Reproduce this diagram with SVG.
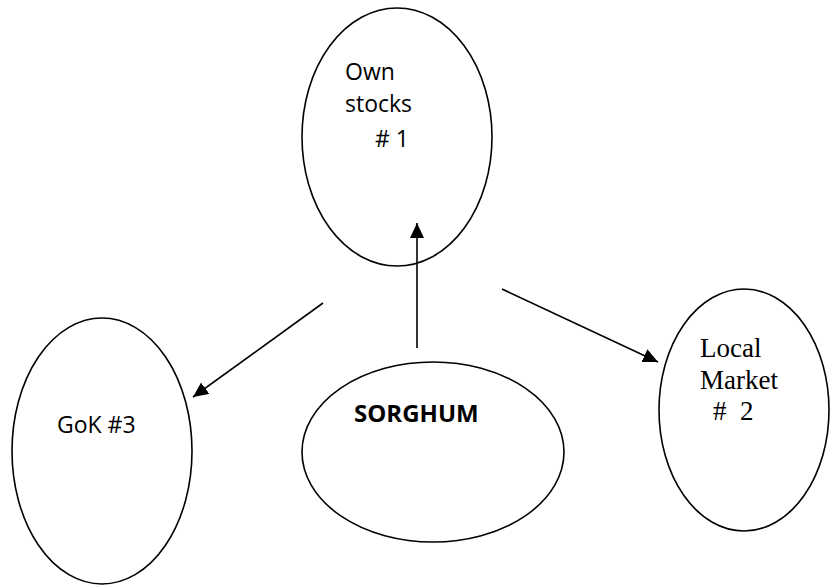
<svg xmlns="http://www.w3.org/2000/svg" width="830" height="586" viewBox="0 0 830 586">
  <style>
    .node { fill: #ffffff; stroke: #000000; stroke-width: 1.6; }
    .sans { font-family: "Open Sans", "Noto Sans", "Liberation Sans", sans-serif; font-size: 23px; fill: #000000; }
    .bold { font-weight: bold; font-size: 24px; }
    .serif { font-family: "Liberation Serif", "Times New Roman", serif; font-size: 27px; fill: #000000; }
    .edge { stroke: #000000; stroke-width: 1.6; fill: none; marker-end: url(#arrow); }
  </style>
  <defs>
    <marker id="arrow" markerUnits="userSpaceOnUse" markerWidth="16" markerHeight="14" refX="15" refY="7" orient="auto">
      <path d="M0,0 L15,7 L0,14 Z" fill="#000000"/>
    </marker>
  </defs>

  <rect width="830" height="586" fill="#ffffff"/>

  <g id="own-stocks">
    <ellipse class="node" cx="397" cy="137" rx="95" ry="129"/>
    <text class="sans" x="345" y="80">Own</text>
    <text class="sans" x="345" y="112">stocks</text>
    <text class="sans" x="375" y="147">#&#160;1</text>
  </g>

  <g id="gok">
    <ellipse class="node" cx="102" cy="451" rx="90" ry="133"/>
    <text class="sans" x="57" y="433">GoK #3</text>
  </g>

  <g id="sorghum">
    <ellipse class="node" cx="433" cy="452" rx="131" ry="90"/>
    <text class="sans bold" x="354" y="422">SORGHUM</text>
  </g>

  <g id="local-market">
    <ellipse class="node" cx="744" cy="410" rx="85" ry="121"/>
    <text class="serif" x="700" y="357">Local</text>
    <text class="serif" x="700" y="389">Market</text>
    <text class="serif" x="713" y="420" xml:space="preserve">#  2</text>
  </g>

  <g id="connectors">
    <line class="edge" x1="417" y1="348" x2="417" y2="223"/>
    <line class="edge" x1="323" y1="303" x2="193" y2="397"/>
    <line class="edge" x1="502" y1="289" x2="658" y2="362"/>
  </g>
</svg>
